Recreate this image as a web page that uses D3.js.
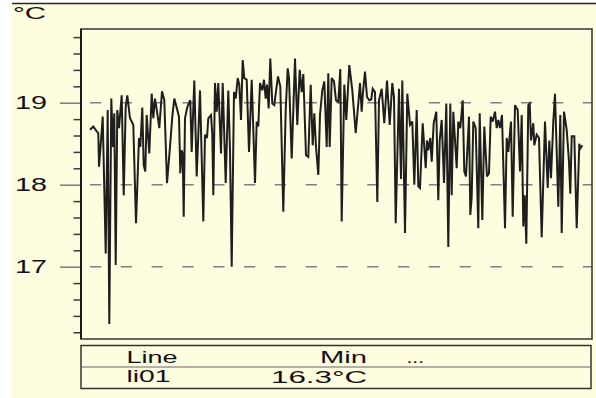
<!DOCTYPE html>
<html>
<head>
<meta charset="utf-8">
<script src="https://cdn.jsdelivr.net/npm/d3@7"></script>
<style>
  html, body { margin: 0; padding: 0; background: #ffffff; }
  svg { display: block; font-family: "Liberation Sans", Arial, sans-serif; }
</style>
</head>
<body>
<svg id="chart" width="596" height="398"></svg>
<script>
// Temperature readings of line li01 (time in hours, temperature in °C)
const hours = [
  0,3.3,6.7,8.3,9,11.7,12.7,15.7,17.7,19.3,21.3,23,24.3,25.7,27.3,29,31.7,33.7,35.7,37.3,
  40,43.3,46,49,50.3,52.3,53.7,55.3,56.7,59.3,61.7,63.3,65,67.3,69.3,72,74.3,77,80,82.3,
  84.3,86.7,89,90.3,91.7,92.7,93.7,95,97,98.7,100.3,101.7,104.3,106.7,110,113.3,115,117,
  118.3,121,122.3,123.3,125,126.7,128.3,131,132.7,135.7,138.3,140,141.7,144,145.7,147.7,149.3,151,152.7,154.3,
  156.7,159,161.7,165,166.7,168.3,170,172.3,174,175.7,177,178.7,180.3,182.3,184.3,185.7,188,190.3,193.3,195.7,
  197.7,199,201.7,205,207.3,209.7,211.7,213.3,216,218.3,220.7,222.7,224.3,226,228.3,230,232.3,234.3,236.7,238.3,239.7,
  241.7,244,246,248.3,250.3,251.7,254.3,256.3,259.3,262.3,265.7,268.3,270,271.7,273,275,277,279.3,281.3,282.7,
  285,287.3,289,291.7,294.3,297,299.7,302.3,304,305.7,309,311,312.3,315,317.3,320,322.3,324.3,326.7,328.3,
  330,332.7,335.7,337,338.3,340.3,341.7,343.7,346.3,348.3,349.7,351.7,354,356.3,358.3,
  360.3,361.7,363.3,366.7,368.3,370.3,372.7,374.3,376,379,380.3,381.7,383.3,385.7,388.3,389.7,392.3,394.3,397,399,
  400.7,402.7,405,406.7,408.3,410,412,415,416.7,418.3,421,422.7,425,427.7,430,431.7,433.3,434.7,436.3,438.3,
  439.7,441,443.3,444.3,446.7,449,451.7,455,457.7,459.3,461,463.3,465,468.3,470.3,471.7,474,476.7,479,480.3,
  481.7,484.3,486.7,489.3,490.3,492.3
];
const temps = [
  18.67,18.71,18.65,18.63,18.22,18.65,18.83,17.16,18.91,16.3,19.05,18.46,18.87,17.02,18.91,18.69,19.09,17.87,18.95,19.09,
  18.81,18.73,17.53,18.57,18.46,18.94,18.24,18.16,18.85,18.38,19.11,18.81,19.05,18.87,18.69,19.14,19.03,18.02,18.46,18.83,
  19.05,18.94,18.83,18.14,18.42,18.38,17.61,18.81,18.93,18.99,19.03,18.40,19.27,18.10,19.15,17.55,18.61,18.57,
  18.81,18.85,18.61,17.87,19.24,18.89,19.24,18.38,19.24,18.02,19.15,18.42,17.00,19.13,19.05,19.30,19.22,18.79,19.52,19.30,
  19.28,18.40,19.28,18.02,18.77,18.71,19.24,19.15,19.28,19.05,19.22,18.93,19.54,18.99,18.97,19.11,19.32,19.20,17.67,18.91,
  19.42,19.30,18.32,19.54,18.73,19.40,19.13,19.35,18.36,18.34,19.22,18.48,18.87,18.46,18.12,18.85,19.15,19.26,18.46,19.36,18.46,
  19.30,19.26,19.03,19.01,19.41,17.55,19.22,18.79,19.46,19.15,18.63,18.99,19.24,18.89,19.13,19.38,19.07,19.03,19.04,19.17,
  19.13,17.79,19.03,19.17,18.75,19.27,18.73,19.24,19.07,17.53,19.17,18.07,19.27,17.41,19.11,18.73,18.77,18.00,18.91,17.98,
  17.96,18.75,18.20,18.54,18.42,18.57,18.28,18.75,18.89,17.81,18.54,18.79,18.02,18.99,17.24,
  18.99,17.87,18.89,18.20,18.77,18.69,19.03,18.16,18.10,18.83,17.63,17.85,18.77,18.69,17.47,18.87,17.57,18.71,18.10,18.14,
  18.83,18.77,18.89,18.69,18.79,18.69,18.85,17.47,18.57,18.40,18.77,17.61,18.97,18.91,18.16,18.85,17.49,17.87,17.28,18.97,
  18.99,18.54,18.75,18.48,18.61,18.57,17.36,18.77,17.96,18.54,18.08,18.77,19.11,17.73,18.85,17.41,18.89,18.67,18.28,17.89,
  18.59,18.59,17.47,18.50,18.44,18.48
];
const majorTicks = [17, 18, 19];
const minorTicks = [16.2,16.4,16.6,16.8,17.2,17.4,17.6,17.8,18.2,18.4,18.6,18.8,19.2,19.4,19.6,19.8];
const unitLabel = "°C";
const tableHeader = ["Line", "Min", "..."];
const lineName = "li01";

const svg = d3.select("#chart");
const bg = "#fffde0";
const dark = "#262626";

// Panel background with its top rule
svg.append("rect").attr("x", 12).attr("y", 3.5).attr("width", 584).attr("height", 394.5).attr("fill", bg);
svg.append("line").attr("x1", 12).attr("x2", 596).attr("y1", 3.5).attr("y2", 3.5)
  .attr("stroke", dark).attr("stroke-width", 1.5);

const plot = { left: 81, right: 592, top: 29, bottom: 339 };
const x = d3.scaleLinear().domain([-9, 502]).range([plot.left, plot.right]);
const y = d3.scaleLinear().domain([16.118, 19.899]).range([plot.bottom, plot.top]);

// Unit label
svg.append("text").attr("x", 13).attr("y", 19).attr("font-size", 16)
  .attr("textLength", 33).attr("lengthAdjust", "spacingAndGlyphs")
  .attr("fill", "#111").text(unitLabel);

// Dashed grid lines at the major values
svg.append("g").selectAll("line").data(majorTicks).join("line")
  .attr("x1", plot.left).attr("x2", plot.right)
  .attr("y1", d => y(d)).attr("y2", d => y(d))
  .attr("stroke", "#808080").attr("stroke-width", 1.5)
  .attr("stroke-dasharray", "11.3,19.5").attr("stroke-dashoffset", 21.8);

// Minor ticks
svg.append("g").attr("transform", `translate(${plot.left},0)`)
  .call(d3.axisLeft(y).tickValues(minorTicks).tickSize(7.5).tickFormat(""))
  .call(g => g.select(".domain").remove())
  .call(g => g.selectAll(".tick line").attr("stroke", "#3a3a3a").attr("stroke-width", 1.5));

// Major ticks (long, grey) and their labels
svg.append("g").attr("transform", `translate(${plot.left},0)`)
  .call(d3.axisLeft(y).tickValues(majorTicks).tickSize(21).tickFormat(""))
  .call(g => g.select(".domain").remove())
  .call(g => g.selectAll(".tick line").attr("stroke", "#7a7a7a").attr("stroke-width", 1.5));

svg.append("g").selectAll("text").data(majorTicks).join("text")
  .attr("x", 15).attr("y", d => y(d) + 6.6)
  .attr("font-size", 17.5)
  .attr("textLength", 32).attr("lengthAdjust", "spacingAndGlyphs")
  .attr("fill", "#111").text(d => d3.format("d")(d));

// Temperature trace
const line = d3.line().x((d, i) => x(hours[i])).y(d => y(d));
svg.append("path").datum(temps).attr("d", line)
  .attr("fill", "none").attr("stroke", "#1e1e1e").attr("stroke-width", 2)
  .attr("stroke-linejoin", "miter").attr("stroke-miterlimit", 3);

// Plot frame
svg.append("rect").attr("x", plot.left).attr("y", plot.top)
  .attr("width", plot.right - plot.left).attr("height", plot.bottom - plot.top)
  .attr("fill", "none").attr("stroke", "#333").attr("stroke-width", 1.5);
svg.append("line").attr("x1", plot.left).attr("x2", plot.left)
  .attr("y1", plot.top).attr("y2", plot.bottom).attr("stroke", "#1a1a1a").attr("stroke-width", 2);

// Summary table
const tbl = { left: 81, right: 591, top: 345.5, mid: 367, bottom: 388.5 };
svg.append("rect").attr("x", tbl.left).attr("y", tbl.top)
  .attr("width", tbl.right - tbl.left).attr("height", tbl.bottom - tbl.top)
  .attr("fill", "none").attr("stroke", "#333").attr("stroke-width", 1.5);
svg.append("line").attr("x1", tbl.left).attr("x2", tbl.right)
  .attr("y1", tbl.mid).attr("y2", tbl.mid).attr("stroke", "#666").attr("stroke-width", 1.2);

const minLabel = d3.format(".1f")(d3.min(temps)) + "°C";
const cells = [
  { t: tableHeader[0], x: 126.5, y: 363.3, w: 51, anchor: "start" },
  { t: tableHeader[1], x: 367, y: 363.3, w: 47, anchor: "end" },
  { t: tableHeader[2], x: 406.5, y: 362.5, w: 17.5, anchor: "start" },
  { t: lineName, x: 126.5, y: 382, w: 44, anchor: "start" },
  { t: minLabel, x: 367, y: 382.5, w: 96, anchor: "end" }
];
svg.append("g").selectAll("text").data(cells).join("text")
  .attr("x", d => d.anchor === "end" ? d.x - d.w : d.x).attr("y", d => d.y)
  .attr("font-size", 16)
  .attr("textLength", d => d.w).attr("lengthAdjust", "spacingAndGlyphs")
  .attr("fill", "#111").text(d => d.t);
</script>
</body>
</html>
